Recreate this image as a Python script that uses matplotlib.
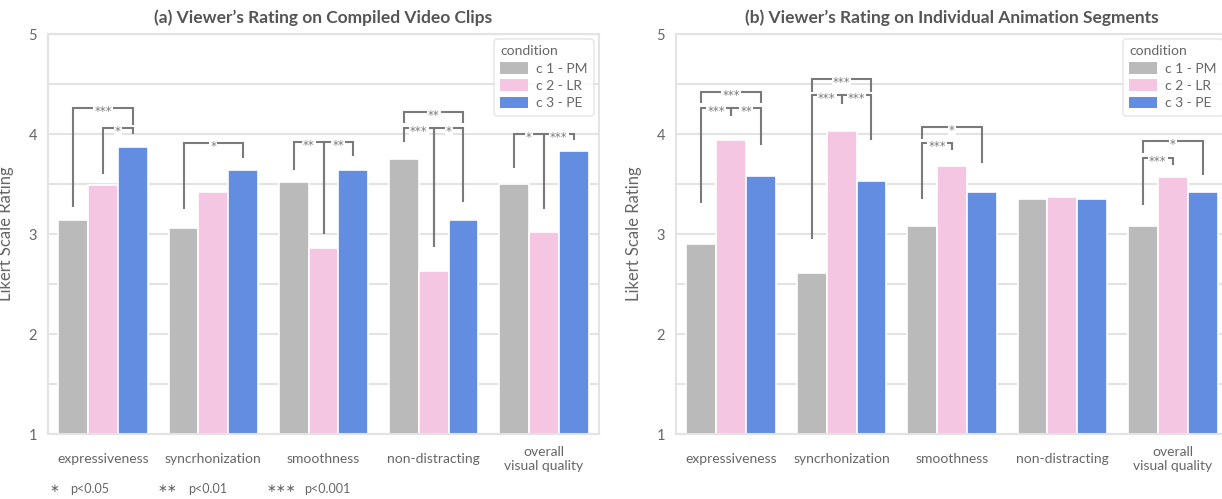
import matplotlib.pyplot as plt
from matplotlib.patches import Patch

plt.rcParams['font.family'] = ['Lato', 'DejaVu Sans']

categories = ['expressiveness', 'syncrhonization', 'smoothness', 'non-distracting',
              'overall\nvisual quality']
conditions = ['c 1 - PM', 'c 2 - LR', 'c 3 - PE']
colors = ['#bababa', '#f5c6e1', '#628de0']

# mean ratings per condition (c1, c2, c3) for each category
clips_c1 = [3.14, 3.06, 3.52, 3.75, 3.50]
clips_c2 = [3.49, 3.42, 2.86, 2.63, 3.02]
clips_c3 = [3.87, 3.64, 3.64, 3.14, 3.83]

segs_c1 = [2.90, 2.61, 3.08, 3.35, 3.08]
segs_c2 = [3.94, 4.03, 3.68, 3.37, 3.57]
segs_c3 = [3.58, 3.53, 3.42, 3.35, 3.42]

# significance brackets: (category, cond a, cond b, bracket height, left leg end, right leg end, label)
clips_sig = [
    (0, 0, 2, 4.26, 3.27, 4.09, '***'),
    (0, 1, 2, 4.06, 3.60, 4.00, '*'),
    (1, 0, 2, 3.91, 3.25, 3.76, '*'),
    (2, 0, 1, 3.92, 3.64, 3.00, '**'),
    (2, 1, 2, 3.92, 3.00, 3.78, '**'),
    (3, 0, 2, 4.22, 4.11, 4.11, '**'),
    (3, 0, 1, 4.06, 3.92, 2.87, '***'),
    (3, 1, 2, 4.06, 2.87, 3.32, '*'),
    (4, 0, 1, 4.00, 3.66, 3.25, '*'),
    (4, 1, 2, 4.00, 3.25, 3.94, '***'),
]
segs_sig = [
    (0, 0, 2, 4.42, 4.31, 4.31, '***'),
    (0, 0, 1, 4.26, 3.31, 4.18, '***'),
    (0, 1, 2, 4.26, 4.18, 3.89, '**'),
    (1, 0, 2, 4.55, 4.42, 4.42, '***'),
    (1, 0, 1, 4.39, 2.95, 4.30, '***'),
    (1, 1, 2, 4.39, 4.30, 3.94, '***'),
    (2, 0, 2, 4.07, 3.95, 3.71, '*'),
    (2, 0, 1, 3.91, 3.35, 3.84, '***'),
    (4, 0, 2, 3.93, 3.81, 3.59, '*'),
    (4, 0, 1, 3.76, 3.29, 3.69, '***'),
]

titles = ["(a) Viewer\u2019s Rating on Compiled Video Clips",
          "(b) Viewer\u2019s Rating on Individual Animation Segments"]

W = 0.27
TXT = '#666666'
LINE = '#7a7a7a'
GRID = '#e3e3e3'

fig = plt.figure(figsize=(12.22, 4.99), dpi=100)
ax1 = fig.add_axes([48 / 1222, 1 - 434 / 499, 551 / 1222, 400 / 499])
ax2 = fig.add_axes([676 / 1222, 1 - 434 / 499, 552 / 1222, 400 / 499])


def draw(ax, series, sig, title):
    for k, vals in enumerate(series):
        xs = [g + (k - 1) * W for g in range(len(categories))]
        ax.bar(xs, [v - 1 for v in vals], bottom=1, width=W, color=colors[k],
               edgecolor='white', linewidth=1.2, zorder=2)
    for g, a, b, top, yl, yr, lab in sig:
        xa = g + (a - 1) * W
        xb = g + (b - 1) * W
        ax.plot([xa, xa, xb, xb], [yl, top, top, yr], color=LINE, lw=1.5,
                solid_joinstyle='miter', solid_capstyle='butt', zorder=3)
        ax.text((xa + xb) / 2, top - 0.035, lab, ha='center', va='center', fontsize=8.5,
                color=LINE, zorder=4, family='DejaVu Sans',
                bbox=dict(fc='white', ec='none', pad=0.8))
    ax.set_xlim(-0.5, len(categories) - 0.5)
    ax.set_ylim(1, 5)
    ax.set_yticks([1, 2, 3, 4, 5])
    ax.set_yticks([1.5, 2.5, 3.5, 4.5], minor=True)
    ax.grid(True, axis='y', which='both', color=GRID, lw=1.5, zorder=0)
    ax.set_axisbelow(True)
    for s in ax.spines.values():
        s.set_color(GRID)
        s.set_linewidth(1.5)
    ax.set_xticks(range(len(categories)))
    ax.set_xticklabels(categories)
    ax.tick_params(axis='x', length=0, pad=18, labelsize=10, labelcolor=TXT)
    ax.tick_params(axis='y', which='both', length=0, pad=8, labelsize=10.5, labelcolor=TXT)
    for t in ax.get_xticklabels():
        t.set_va('center')
        t.set_linespacing(1.3)
    ax.set_ylabel('Likert Scale Rating', fontsize=12, color=TXT, labelpad=10)
    ax.set_title(title, fontsize=12.5, fontweight='bold', color='#555555', pad=8)
    handles = [Patch(facecolor=c, edgecolor='none') for c in colors]
    leg = ax.legend(handles, conditions, title='condition', loc='upper right',
                    fontsize=10, title_fontsize=10, frameon=True, borderaxespad=0.35,
                    handlelength=2.0, handleheight=0.9, labelspacing=0.35,
                    handletextpad=0.6, borderpad=0.45)
    leg._legend_box.align = 'left'
    leg.get_title().set_color(TXT)
    for t in leg.get_texts():
        t.set_color(TXT)
    leg.get_frame().set_edgecolor(GRID)
    leg.get_frame().set_linewidth(1.2)


draw(ax1, [clips_c1, clips_c2, clips_c3], clips_sig, titles[0])
draw(ax2, [segs_c1, segs_c2, segs_c3], segs_sig, titles[1])

notes = [('\u2217', 'p<0.05', 50, 70), ('\u2217\u2217', 'p<0.01', 158, 188),
         ('\u2217\u2217\u2217', 'p<0.001', 267, 304)]
for s, p, xs, xp in notes:
    fig.text(xs / 1222, 1 - 489 / 499, s, fontsize=8.5, color=TXT, va='center',
             family='DejaVu Sans')
    fig.text(xp / 1222, 1 - 489 / 499, p, fontsize=9, color=TXT, va='center')

fig.savefig('out.png', dpi=100)
